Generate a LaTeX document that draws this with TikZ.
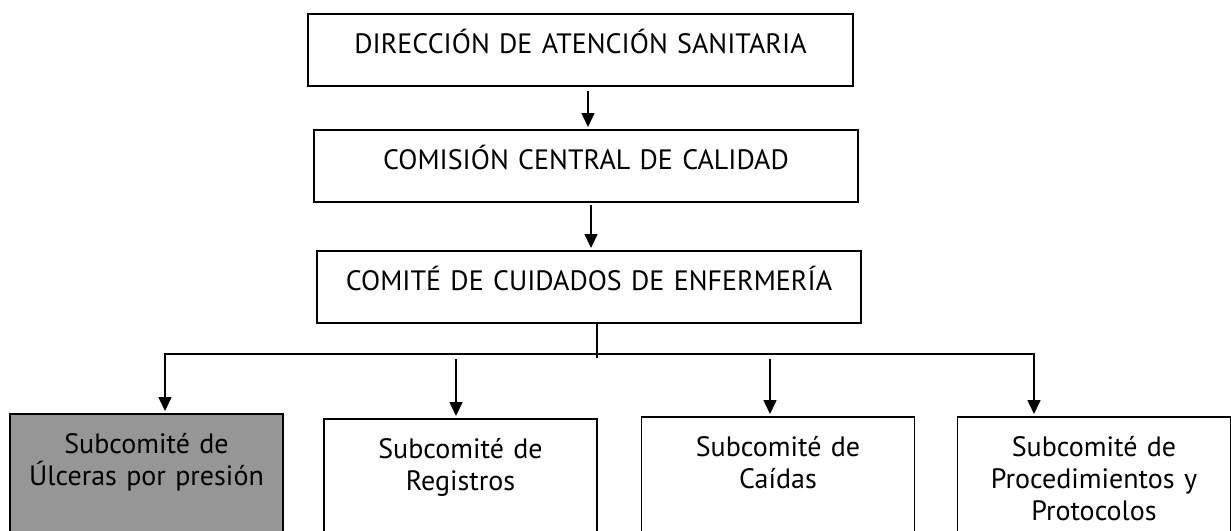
\documentclass[tikz,border=0pt]{standalone}
\usepackage{fontspec}
\setmainfont{PT Sans}
\usetikzlibrary{calc, positioning, arrows.meta, shapes}
\definecolor{boxgray}{RGB}{150,150,150}
\newcommand\orgfont{\fontsize{14}{16}\selectfont}
\tikzset{
  orgbox/.style={draw=black, line width=0.8pt, anchor=north, inner sep=0pt, align=center, font=\orgfont, text height=20pt},
  topbox/.style={orgbox, text width=#1, text depth=16pt},
  subbox/.style={orgbox, text width=136.5pt, text depth=48pt},
  link/.style={line width=0.8pt},
  arr/.style={line width=0.8pt, -{Triangle[length=7pt,width=6.5pt]}, shorten >=1pt},
}

\begin{document}
\begin{tikzpicture}[x=0.5pt,y=-0.5pt]
\useasboundingbox (0,0) rectangle (1231,530);
\clip (0,0) rectangle (1231,530);

\node[topbox=272.5pt] (dir) at (580.5,13) {DIRECCIÓN DE ATENCIÓN SANITARIA};
\node[topbox=272pt] (com) at (586,129) {COMISIÓN CENTRAL DE CALIDAD};
\node[topbox=272pt] (cte) at (589,250) {COMITÉ DE CUIDADOS DE ENFERMERÍA};

\node[subbox, fill=boxgray] (ulc) at (146.5,413) {Subcomité de\\Úlceras por presión};
\node[subbox] (reg) at (460.5,418) {Subcomité de\\Registros};
\node[subbox] (cai) at (778,416) {Subcomité de\\Caídas};
\node[subbox] (pro) at (1094,416) {Subcomité de\\Procedimientos y\\Protocolos};

\coordinate (a1) at (588,0);
\coordinate (a2) at (591,0);
\coordinate (tap) at (597,358);
\coordinate (busL) at (165,354);
\coordinate (busR) at (1034,354);
\coordinate (a4) at (456,359);
\coordinate (a5) at (770,359);

\draw[arr, shorten <=2pt] (dir.south -| a1) -- (com.north -| a1);
\draw[arr, shorten <=1pt] (com.south -| a2) -- (cte.north -| a2);
\draw[link] (cte.south -| tap) -- (tap);
\draw[arr] (tap |- busL) -- (busL) -- (ulc.north -| busL);
\draw[arr] (tap |- busL) -- (busR) -- (pro.north -| busR);
\draw[arr] (a4) -- (reg.north -| a4);
\draw[arr] (a5) -- (cai.north -| a5);
\end{tikzpicture}
\end{document}
